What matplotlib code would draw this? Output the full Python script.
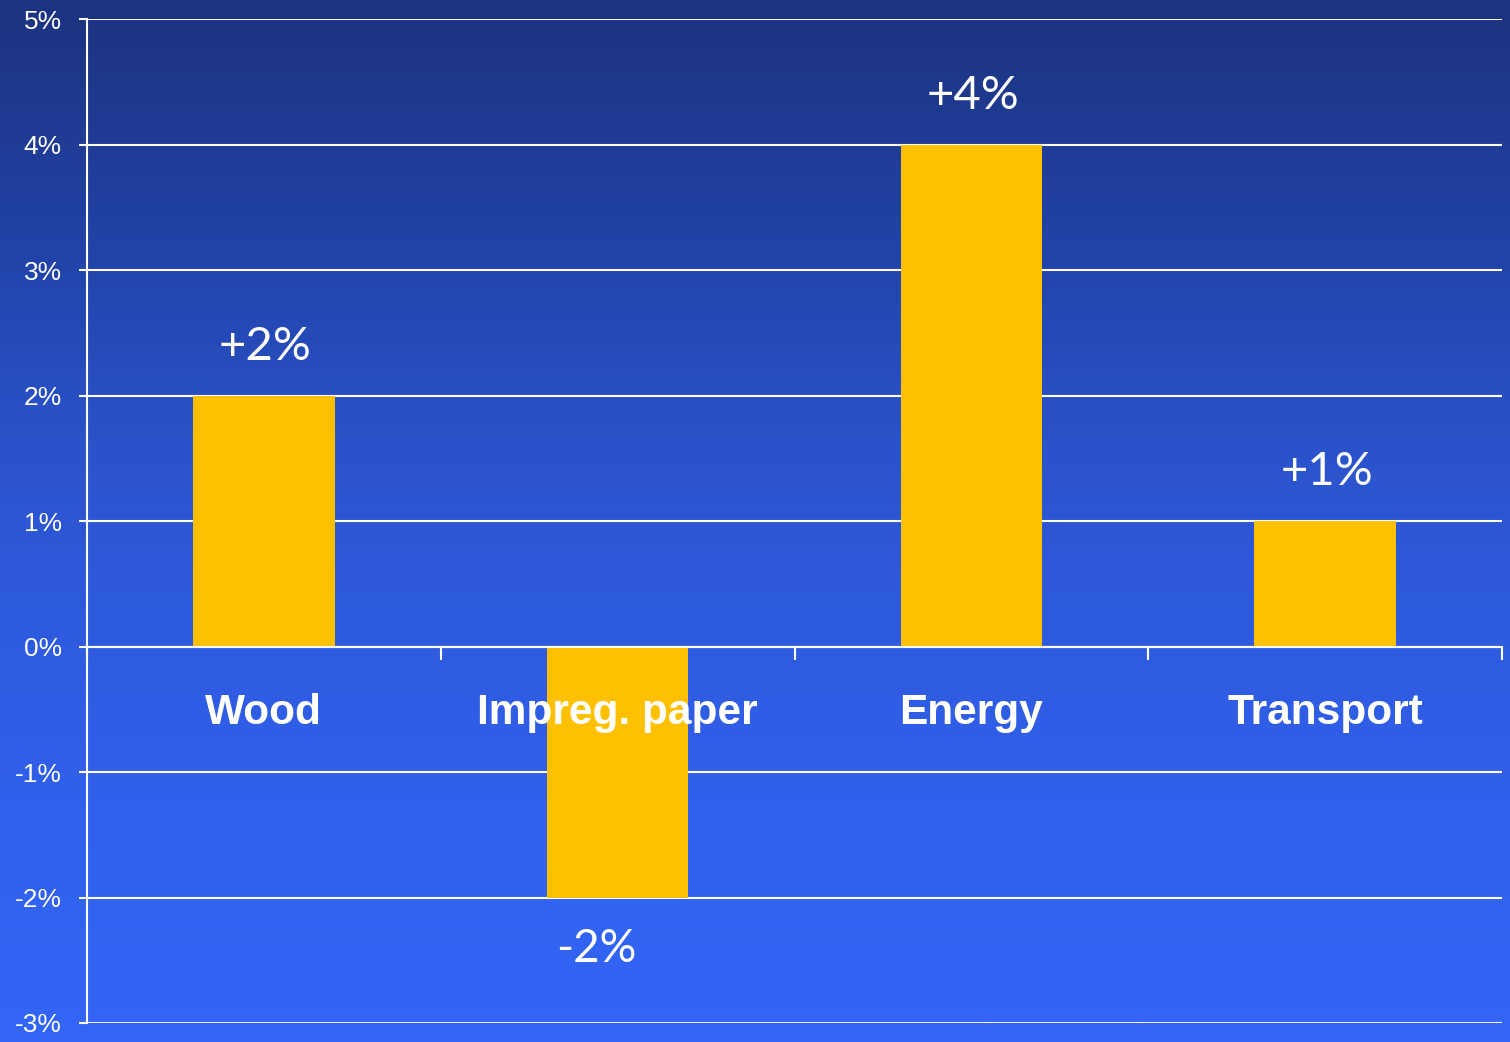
import numpy as np
import matplotlib
matplotlib.use("Agg")
import matplotlib.pyplot as plt
from matplotlib.colors import LinearSegmentedColormap

categories = ["Wood", "Impreg. paper", "Energy", "Transport"]
values = [2, -2, 4, 1]
value_labels = ["+2%", "-2%", "+4%", "+1%"]
yticks = [-3, -2, -1, 0, 1, 2, 3, 4, 5]
ytick_labels = ["-3%", "-2%", "-1%", "0%", "1%", "2%", "3%", "4%", "5%"]

fig = plt.figure(figsize=(15.10, 10.42), dpi=100)

# background gradient (top dark -> bottom bright)
bg = fig.add_axes([0, 0, 1, 1], zorder=0)
stops = [(0.0, "#1c3380"), (0.04, "#1d3585"), (0.25, "#2244aa"), (0.41, "#2a52c8"),
         (0.585, "#2e5add"), (0.775, "#3160ec"), (0.97, "#3365f5"), (1.0, "#3366f6")]
cmap = LinearSegmentedColormap.from_list("bg", stops)
grad = np.linspace(0, 1, 512).reshape(-1, 1)
bg.imshow(grad, aspect="auto", cmap=cmap, extent=[0, 1, 0, 1], origin="upper")
bg.set_axis_off()

ax = fig.add_axes([87/1510, 1 - 1023/1042, (1502-87)/1510, (1023-19)/1042], zorder=1)
ax.patch.set_alpha(0)

x = np.arange(len(categories))
ax.bar(x, values, width=0.4, color="#FFC000", zorder=3)

ax.set_xlim(-0.5, len(categories) - 0.5)
ax.set_ylim(-3, 5)
ax.set_yticks(yticks)
ax.set_yticklabels(ytick_labels, color="white", fontsize=19, family="Liberation Sans")
ax.yaxis.grid(True, color="white", linewidth=1.5, zorder=1)
ax.set_axisbelow(True)
ax.tick_params(axis="y", length=6, width=1.5, color="white", pad=12)

ax.spines["top"].set_visible(False)
ax.spines["right"].set_visible(False)
ax.spines["left"].set_color("white")
ax.spines["left"].set_linewidth(1.5)
ax.spines["bottom"].set_position(("data", 0))
ax.spines["bottom"].set_color("white")
ax.spines["bottom"].set_linewidth(1.5)
ax.spines["bottom"].set_zorder(4)

ax.set_xticks(np.arange(len(categories) + 1) - 0.5)
ax.set_xticklabels([])
ax.tick_params(axis="x", direction="out", length=9, width=1.5, color="white")

for xi, cat in zip(x, categories):
    ax.text(xi, -0.53, cat, ha="center", va="center", color="white",
            fontsize=30.5, fontweight="bold", family="Liberation Sans", zorder=5)

for xi, v, lab in zip(x, values, value_labels):
    if v >= 0:
        ax.annotate(lab, (xi, v), xytext=(1, 35), textcoords="offset points",
                    ha="center", va="center", color="white", fontsize=34,
                    family="Lato", zorder=5)
    else:
        ax.annotate(lab, (xi, v), xytext=(-15, -37), textcoords="offset points",
                    ha="center", va="center", color="white", fontsize=33,
                    family="Lato", zorder=5)

fig.savefig("out.png", dpi=100)
